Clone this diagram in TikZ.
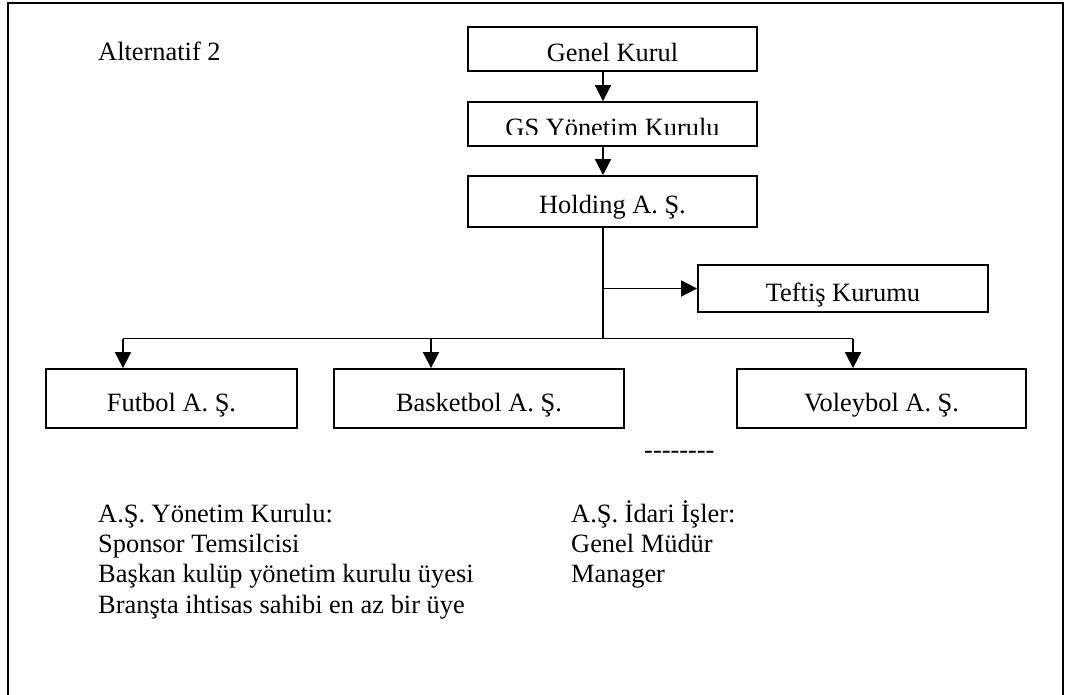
\documentclass[tikz,border=0pt]{standalone}
\usepackage{fontspec}
\setmainfont{Liberation Serif}
\usetikzlibrary{arrows.meta}
\begin{document}
\begin{tikzpicture}[x=1pt,y=-1pt,
  every node/.style={font=\fontsize{26.4}{31}\selectfont},
  orgbox/.style={draw,line width=1.8pt,inner sep=0pt,text height=25pt,text depth=0pt},
  link/.style={line width=1.8pt},
  arr/.style={link,-{Triangle[length=16pt,width=16pt]}},
  label/.style={anchor=base west,inner sep=0pt}
]
\useasboundingbox (0,0) rectangle (1065,695);

% page frame, open at the bottom
\draw[line width=2.2pt] (8,695) -- (8,3) -- (1063,3) -- (1063,695);

\node[label] (title) at (98,61) {Alternatif 2};

% top of the hierarchy
\node[orgbox,minimum width=289pt,minimum height=44pt] (genel) at (612.5,49) {Genel Kurul};
\node[orgbox,minimum width=289pt,minimum height=44pt] (gs) at (612.5,124) {};
\begin{scope}
  \clip (470,104) rectangle (755,134.5);
  \node[anchor=base,inner sep=0pt] (gstext) at (612.5,137) {GS Yönetim Kurulu};
\end{scope}
\node[orgbox,minimum width=289pt,minimum height=51pt] (holding) at (612.5,201.5) {Holding A. Ş.};
\node[orgbox,minimum width=290pt,minimum height=47pt] (teftis) at (843,288.5) {Teftiş Kurumu};

% branch companies
\node[orgbox,minimum width=251pt,minimum height=59pt] (futbol) at (171.5,398.5) {Futbol A. Ş.};
\node[orgbox,minimum width=290pt,minimum height=59pt] (basket) at (479,398.5) {Basketbol A. Ş.};
\node[orgbox,minimum width=289pt,minimum height=59pt] (voley) at (881.5,398.5) {Voleybol A. Ş.};

% spine and bus
\coordinate (spine) at (603,338.5);
\coordinate (busF) at (123,338.5);
\coordinate (busB) at (431,338.5);
\coordinate (busV) at (853,338.5);

\draw[arr] (genel.south -| spine) -- (gs.north -| spine);
\draw[arr] (gs.south -| spine) -- (holding.north -| spine);
\draw[link] (holding.south -| spine) -- (spine);
\draw[arr] (spine |- teftis.west) -- (teftis.west);
\draw[link] (busF) -- (busV);
\draw[arr] (busF) -- (busF |- futbol.north);
\draw[arr] (busB) -- (busB |- basket.north);
\draw[arr] (busV) -- (busV |- voley.north);

\node[label] (dots) at (644,458) {-{}-{}-{}-{}-{}-{}-{}-};

% board members and administration
\node[label] (ykhead) at (98,522) {A.Ş. Yönetim Kurulu:};
\node[label] (yk1) at (98,552) {Sponsor Temsilcisi};
\node[label] (yk2) at (98,582) {Başkan kulüp yönetim kurulu üyesi};
\node[label] (yk3) at (98,613) {Branşta ihtisas sahibi en az bir üye};

\node[label] (idhead) at (571,522) {A.Ş. İdari İşler:};
\node[label] (id1) at (571,552) {Genel Müdür};
\node[label] (id2) at (571,582) {Manager};
\end{tikzpicture}
\end{document}
